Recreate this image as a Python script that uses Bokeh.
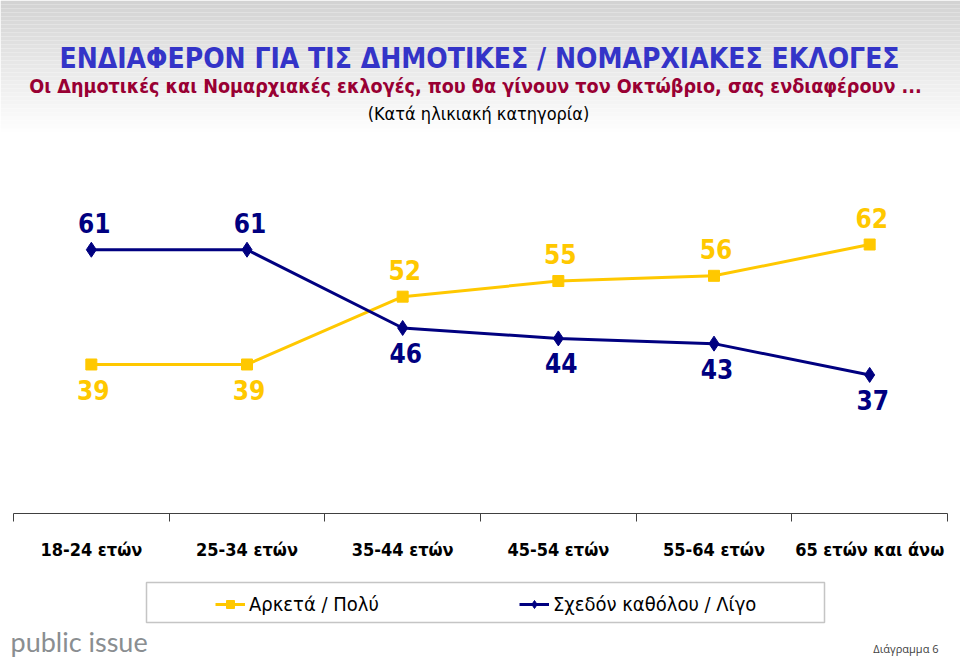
from bokeh.plotting import figure
from bokeh.layouts import column
from bokeh.models import (Range1d, LinearAxis, FixedTicker, Label, Legend, LegendItem,
                          BoxAnnotation)
from bokeh.core.properties import value
from bokeh.embed import file_html
from bokeh.resources import INLINE

# ---- data ----
categories = ["18-24 ετών", "25-34 ετών", "35-44 ετών", "45-54 ετών", "55-64 ετών", "65 ετών και άνω"]
arketa_poly = [39, 39, 52, 55, 56, 62]          # Αρκετά / Πολύ
katholou_ligo = [61, 61, 46, 44, 43, 37]        # Σχεδόν καθόλου / Λίγο
series_names = ["Αρκετά / Πολύ", "Σχεδόν καθόλου / Λίγο"]

title = "ΕΝΔΙΑΦΕΡΟΝ ΓΙΑ ΤΙΣ ΔΗΜΟΤΙΚΕΣ / ΝΟΜΑΡΧΙΑΚΕΣ ΕΚΛΟΓΕΣ"
subtitle = "Οι Δημοτικές και Νομαρχιακές εκλογές, που θα γίνουν τον Οκτώβριο, σας ενδιαφέρουν ..."
subtitle2 = "(Κατά ηλικιακή κατηγορία)"
brand = "public issue"
diagram_no = "Διάγραμμα 6"

NARROW = "DejaVu Sans Condensed"
YELLOW = "#FFC800"
NAVY = "#000080"

W = 960
HA, HB = 575, 83
FRAME_B = 513          # frame bottom (page px) of the chart
AX_L, AX_R = 13, 947   # page px where the category axis starts / ends

n = len(categories)
unit = (AX_R - AX_L) / n
x_lo = -AX_L / unit
x_hi = n + (W - AX_R) / unit

p = figure(width=W, height=HA, x_range=Range1d(x_lo, x_hi), y_range=Range1d(10.44, 108.77),
           output_backend="svg", toolbar_location=None, x_axis_type=None, y_axis_type=None,
           min_border_left=0, min_border_right=0, min_border_top=0, min_border_bottom=HA - FRAME_B)
p.outline_line_color = None
p.xgrid.visible = False
p.ygrid.visible = False
p.background_fill_color = "white"
p.border_fill_color = "white"

# gradient background at the top (screen coords relative to frame bottom-left)
n_bands = 34
for i in range(n_bands):
    t = i / (n_bands - 1)
    c = int(round(0xD3 + (0xFF - 0xD3) * t))
    col = "#%02x%02x%02x" % (c, c, c)
    top = FRAME_B - i * 4
    p.add_layout(BoxAnnotation(left=0, right=W, top=top, bottom=top - 4,
                               left_units="screen", right_units="screen",
                               top_units="screen", bottom_units="screen",
                               fill_color=col, fill_alpha=1, line_color=None,
                               level="underlay"))

xs = [i + 0.5 for i in range(n)]

# x axis with ticks at category boundaries
ax = LinearAxis(ticker=FixedTicker(ticks=xs, minor_ticks=list(range(n + 1))), bounds=(0, n))
ax.major_label_overrides = {x: c for x, c in zip(xs, categories)}
ax.major_tick_in = 0
ax.major_tick_out = 0
ax.minor_tick_in = 0
ax.minor_tick_out = 8
ax.minor_tick_line_color = "#404040"
ax.axis_line_color = "#404040"
ax.major_label_standoff = 17
ax.major_label_text_font = NARROW
ax.major_label_text_font_style = "bold"
ax.major_label_text_font_size = "18px"
ax.major_label_text_color = "black"
p.add_layout(ax, "below")

# lines
p.line(xs, arketa_poly, line_color=YELLOW, line_width=3)
p.scatter(xs, arketa_poly, marker="square", size=11, fill_color=YELLOW, line_color=YELLOW)
p.line(xs, katholou_ligo, line_color=NAVY, line_width=3)
p.scatter(xs, katholou_ligo, marker="diamond", size=15, fill_color=NAVY, line_color=NAVY)

# value labels: above the upper series, below the lower one
off_y = [(-27 if a >= b else 26) for a, b in zip(arketa_poly, katholou_ligo)]
off_n = [(-27 if b > a else 25) for a, b in zip(arketa_poly, katholou_ligo)]
p.text(xs, arketa_poly, text=[str(v) for v in arketa_poly], y_offset=off_y, x_offset=2,
       text_align="center", text_baseline="middle", text_color=YELLOW,
       text_font=value(NARROW), text_font_style="bold", text_font_size="26px")
p.text(xs, katholou_ligo, text=[str(v) for v in katholou_ligo], y_offset=off_n, x_offset=3,
       text_align="center", text_baseline="middle", text_color=NAVY,
       text_font=value(NARROW), text_font_style="bold", text_font_size="26px")


def lab(fig, fb, text, x, y, size, color, style="normal", font=NARROW, align="center"):
    fig.add_layout(Label(x=x, y=fb - y, x_units="screen", y_units="screen", text=text,
                         text_align=align, text_baseline="middle", text_font=font,
                         text_font_size=size, text_color=color, text_font_style=style))


lab(p, FRAME_B, title, 479, 58, "28px", "#3434C8", style="bold")
lab(p, FRAME_B, subtitle, 475, 86, "19.6px", "#990033", style="bold")
lab(p, FRAME_B, subtitle2, 478, 113, "18px", "black")

# ---- footer figure: legend + brand ----
q = figure(width=W, height=HB, x_range=Range1d(0, 1), y_range=Range1d(0, 1),
           output_backend="svg", toolbar_location=None, x_axis_type=None, y_axis_type=None,
           min_border_left=0, min_border_right=0, min_border_top=0, min_border_bottom=0)
q.outline_line_color = None
q.xgrid.visible = False
q.ygrid.visible = False
q.background_fill_color = "white"
q.border_fill_color = "white"

y0 = HA  # page y of the footer's top
q.add_layout(BoxAnnotation(left=146, right=824, top=y0 + HB - 582, bottom=y0 + HB - 622,
                           left_units="screen", right_units="screen",
                           top_units="screen", bottom_units="screen",
                           fill_color="white", fill_alpha=1, line_color="#404040",
                           line_width=1.5, level="underlay"))

# legend-only renderers (one point outside the visible range each)
l1 = q.line([-5], [-5], line_color=YELLOW, line_width=3)
s1 = q.scatter([-5], [-5], marker="square", size=11, fill_color=YELLOW, line_color=YELLOW)
l2 = q.line([-5], [-5], line_color=NAVY, line_width=3)
s2 = q.scatter([-5], [-5], marker="diamond", size=15, fill_color=NAVY, line_color=NAVY)

legend = Legend(items=[LegendItem(label=series_names[0], renderers=[l1, s1]),
                       LegendItem(label=series_names[1], renderers=[l2, s2])],
                orientation="horizontal", location=(215, y0 + HB - 616),
                padding=10, spacing=130, label_width=140, label_height=20, label_standoff=4,
                glyph_width=30, glyph_height=20, border_line_color=None,
                background_fill_alpha=0, label_text_font=NARROW,
                label_text_font_size="20px", label_text_color="black",
                label_text_baseline="middle", margin=0)
q.add_layout(legend, "center")

lab(q, y0 + HB, brand, 10, 641, "27px", "#8A8E91", font="Lato", align="left")
lab(q, y0 + HB, diagram_no, 938, 648, "11px", "#404040", font="Open Sans", align="right")

open("out.html", "w").write(file_html(column(p, q, spacing=0), INLINE))
